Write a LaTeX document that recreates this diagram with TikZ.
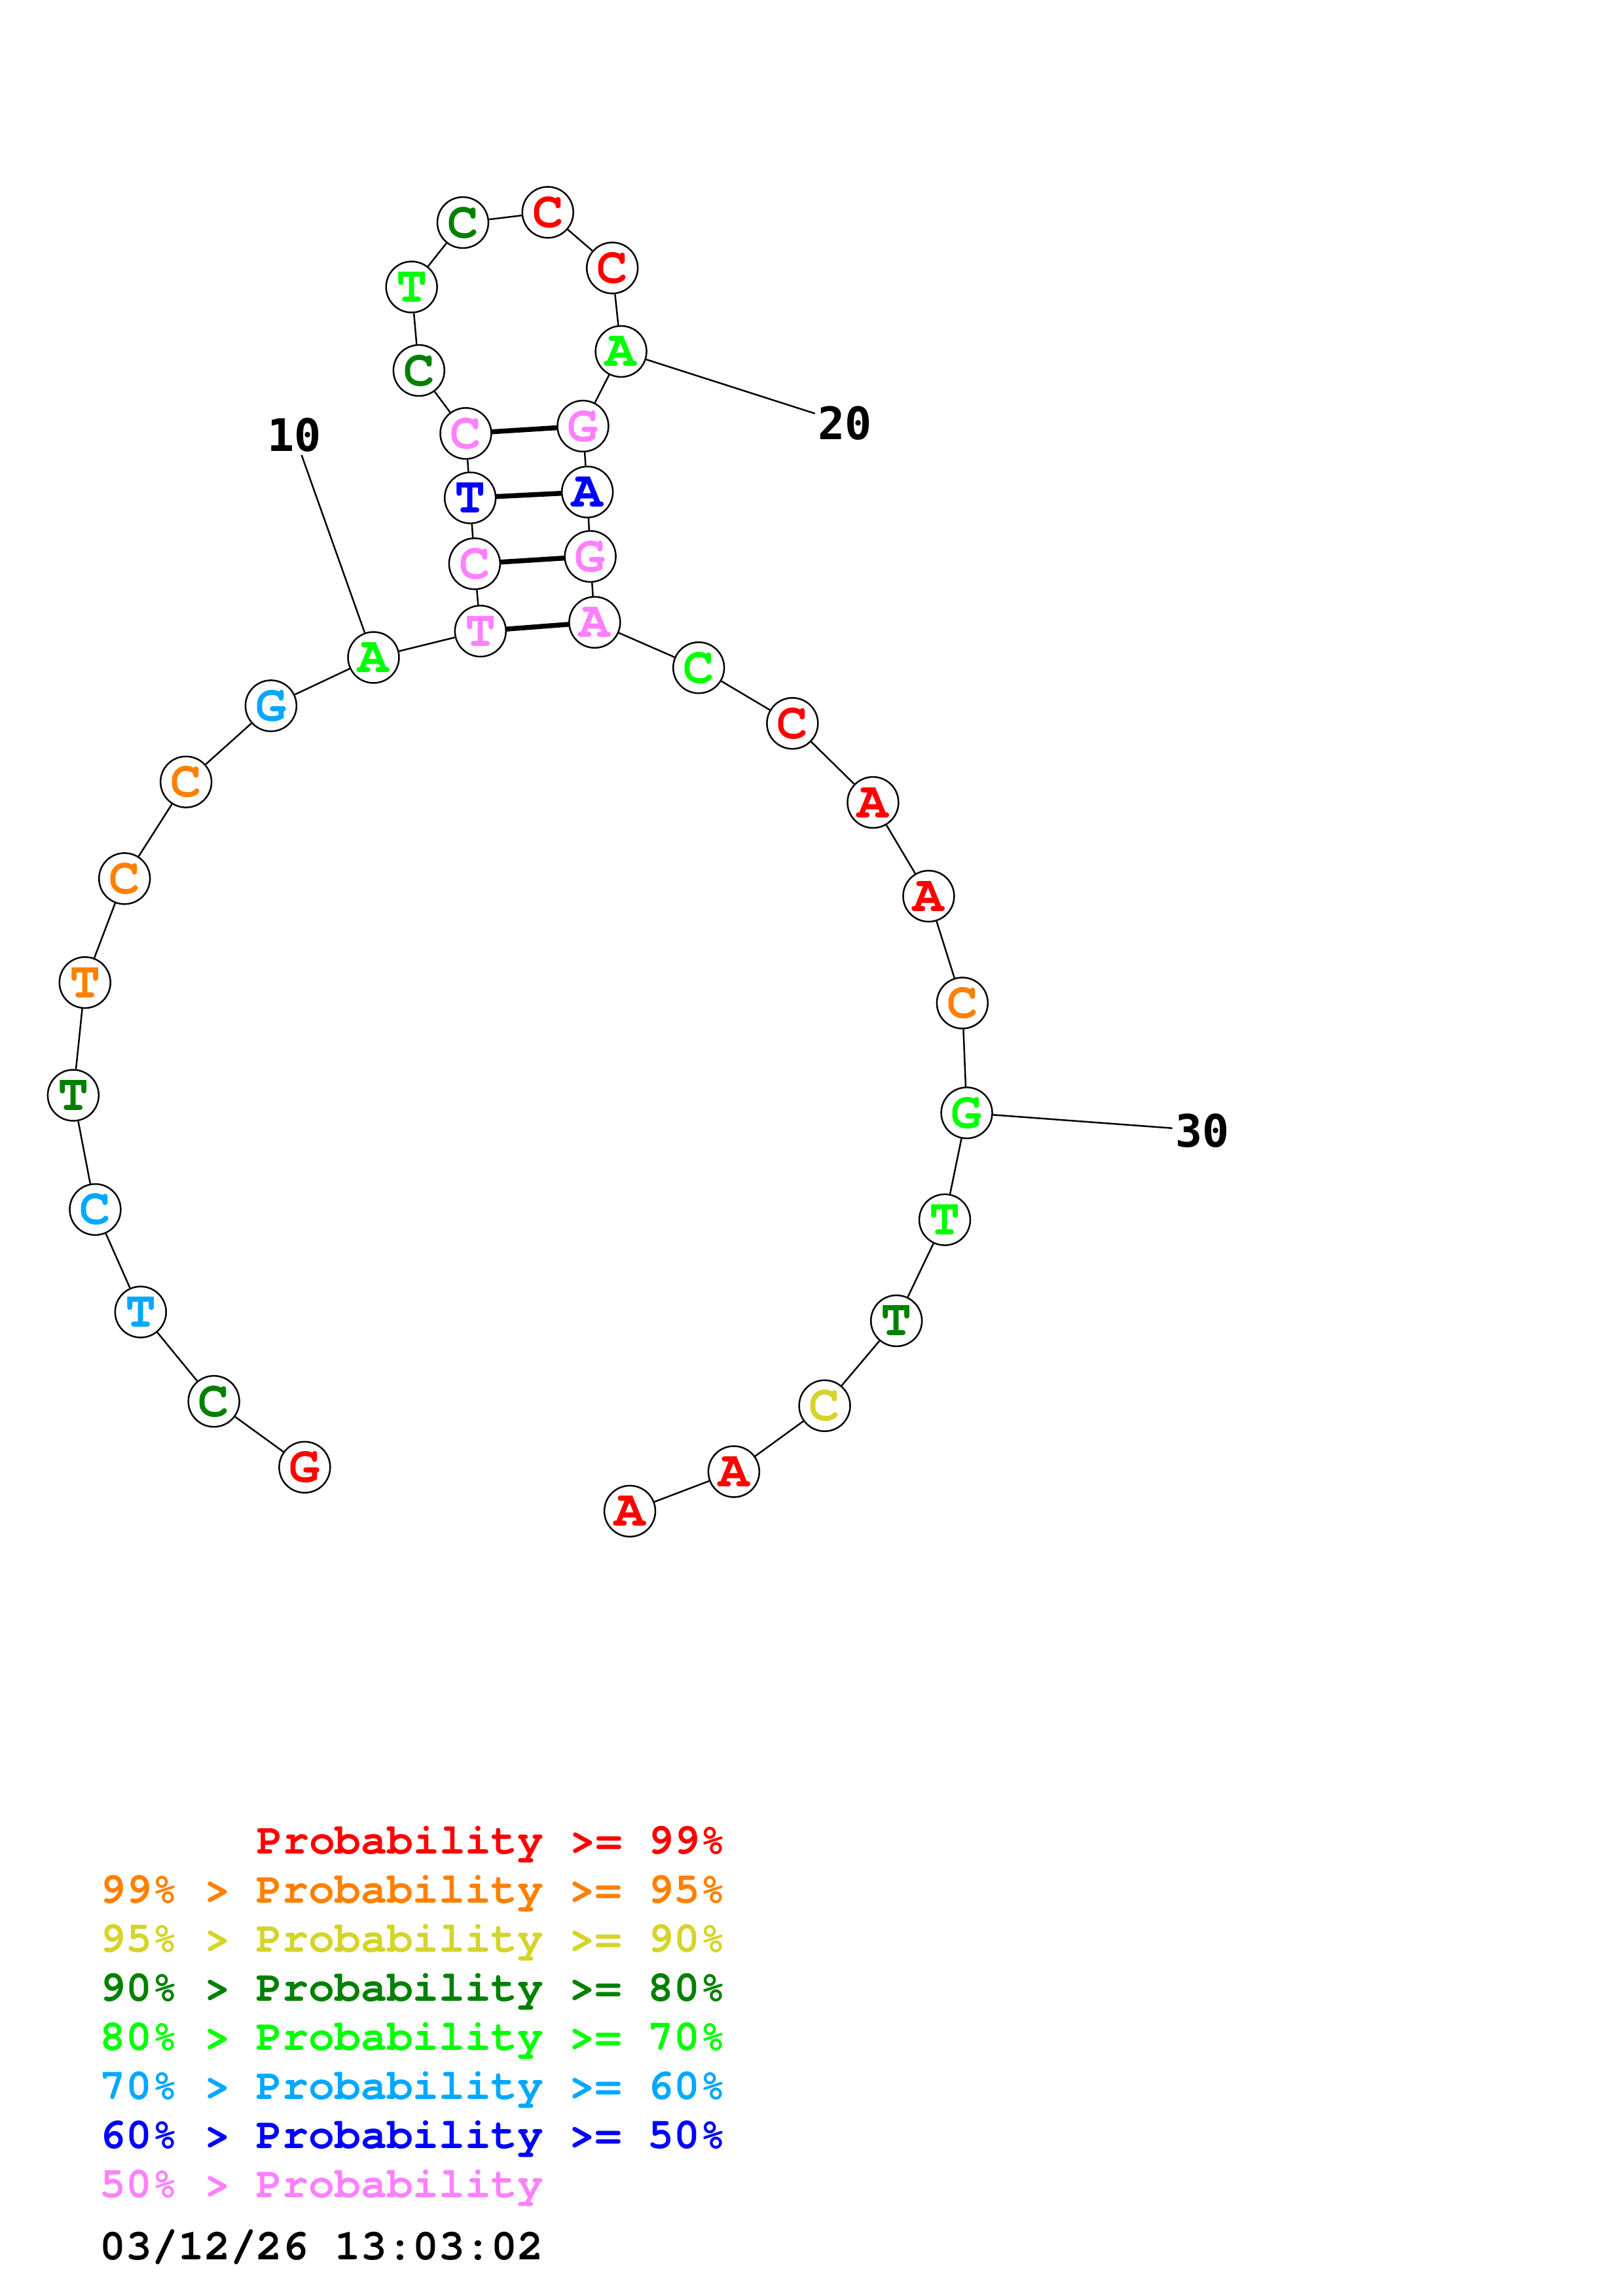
\documentclass[tikz,border=0pt]{standalone}
\usepackage{fontspec}
\setmonofont{TeX Gyre Cursor}
\newfontfamily\numfont{DejaVu Sans Mono}
\usepackage{tikz}
\usetikzlibrary{positioning}

\definecolor{pnove}{RGB}{255,0,0}
\definecolor{pcinq}{RGB}{255,128,0}
\definecolor{pnovz}{RGB}{212,212,42}
\definecolor{potto}{RGB}{0,128,0}
\definecolor{psett}{RGB}{0,255,0}
\definecolor{psei}{RGB}{0,168,255}
\definecolor{pcinqz}{RGB}{0,0,255}
\definecolor{pbassa}{RGB}{255,128,255}

\begin{document}
\begin{tikzpicture}[x=0.18953mm, y=-0.18953mm,
    base/.style={draw, circle, line width=0.6pt, minimum size=6.6mm, inner sep=0pt, fill=white,
        font=\ttfamily\bfseries\fontsize{19}{19}\selectfont},
    bb/.style={line width=0.6pt},
    pair/.style={line width=1.8pt},
    num/.style={inner sep=1pt, font=\numfont\bfseries\fontsize{16.5}{16.5}\selectfont},
    leg/.style={anchor=base west, inner sep=0pt, font=\ttfamily\bfseries\fontsize{16}{16}\selectfont}]

    \useasboundingbox (0,0) rectangle (1108,1568);

    % coppie
    \coordinate (c11) at (328,431);
    \coordinate (c12) at (324,385);
    \coordinate (c13) at (321,340);
    \coordinate (c14) at (318,296);
    \coordinate (c21) at (398,291);
    \coordinate (c22) at (401,336);
    \coordinate (c23) at (403,380);
    \coordinate (c24) at (406,425);
    \draw[pair] (c11) -- (c24);
    \draw[pair] (c12) -- (c23);
    \draw[pair] (c13) -- (c22);
    \draw[pair] (c14) -- (c21);

    \node[base, text=pnove]  (n1)  at (208,1002) {G};
    \node[base, text=potto]  (n2)  at (146,957)  {C};
    \node[base, text=psei]   (n3)  at (96,896)   {T};
    \node[base, text=psei]   (n4)  at (65,826)   {C};
    \node[base, text=potto]  (n5)  at (50,748)   {T};
    \node[base, text=pcinq]  (n6)  at (58,671)   {T};
    \node[base, text=pcinq]  (n7)  at (85,600)   {C};
    \node[base, text=pcinq]  (n8)  at (127,534)  {C};
    \node[base, text=psei]   (n9)  at (185,482)  {G};
    \node[base, text=psett]  (n10) at (255,449)  {A};
    \node[base, text=pbassa] (n11) at (c11)      {T};
    \node[base, text=pbassa] (n12) at (c12)      {C};
    \node[base, text=pcinqz] (n13) at (c13)      {T};
    \node[base, text=pbassa] (n14) at (c14)      {C};
    \node[base, text=potto]  (n15) at (286,253)  {C};
    \node[base, text=psett]  (n16) at (281,196)  {T};
    \node[base, text=potto]  (n17) at (316,152)  {C};
    \node[base, text=pnove]  (n18) at (374,145)  {C};
    \node[base, text=pnove]  (n19) at (418,183)  {C};
    \node[base, text=psett]  (n20) at (424,240)  {A};
    \node[base, text=pbassa] (n21) at (c21)      {G};
    \node[base, text=pcinqz] (n22) at (c22)      {A};
    \node[base, text=pbassa] (n23) at (c23)      {G};
    \node[base, text=pbassa] (n24) at (c24)      {A};
    \node[base, text=psett]  (n25) at (477,456)  {C};
    \node[base, text=pnove]  (n26) at (541,494)  {C};
    \node[base, text=pnove]  (n27) at (596,548)  {A};
    \node[base, text=pnove]  (n28) at (634,612)  {A};
    \node[base, text=pcinq]  (n29) at (657,685)  {C};
    \node[base, text=psett]  (n30) at (660,760)  {G};
    \node[base, text=psett]  (n31) at (645,833)  {T};
    \node[base, text=potto]  (n32) at (612,902)  {T};
    \node[base, text=pnovz]  (n33) at (563,960)  {C};
    \node[base, text=pnove]  (n34) at (501,1005) {A};
    \node[base, text=pnove]  (n35) at (430,1032) {A};

    \draw[bb] (n1) -- (n2) -- (n3) -- (n4) -- (n5) -- (n6) -- (n7) -- (n8) -- (n9) -- (n10)
        -- (n11) -- (n12) -- (n13) -- (n14) -- (n15) -- (n16) -- (n17) -- (n18) -- (n19) -- (n20)
        -- (n21) -- (n22) -- (n23) -- (n24) -- (n25) -- (n26) -- (n27) -- (n28) -- (n29) -- (n30)
        -- (n31) -- (n32) -- (n33) -- (n34) -- (n35);

    % numerazione
    \node[num] (t10) at (201,297) {10};
    \node[num] (t20) at (577,289) {20};
    \node[num] (t30) at (821,772) {30};
    \draw[bb] (n10) -- (t10);
    \draw[bb] (n20) -- (t20);
    \draw[bb] (n30) -- (t30);

    % legenda
    \node[leg, text=pnove]  (g1) at (175,1266)  {Probability >= 99\%};
    \node[leg, text=pcinq]  (g2) at (68,1299.5) {99\% > Probability >= 95\%};
    \node[leg, text=pnovz]  (g3) at (68,1333)   {95\% > Probability >= 90\%};
    \node[leg, text=potto]  (g4) at (68,1366.5) {90\% > Probability >= 80\%};
    \node[leg, text=psett]  (g5) at (68,1400)   {80\% > Probability >= 70\%};
    \node[leg, text=psei]   (g6) at (68,1433.5) {70\% > Probability >= 60\%};
    \node[leg, text=pcinqz] (g7) at (68,1467)   {60\% > Probability >= 50\%};
    \node[leg, text=pbassa] (g8) at (68,1500.5) {50\% > Probability};
    \node[leg, text=black]  (g9) at (68,1543)   {03/12/26 13:03:02};
\end{tikzpicture}
\end{document}
